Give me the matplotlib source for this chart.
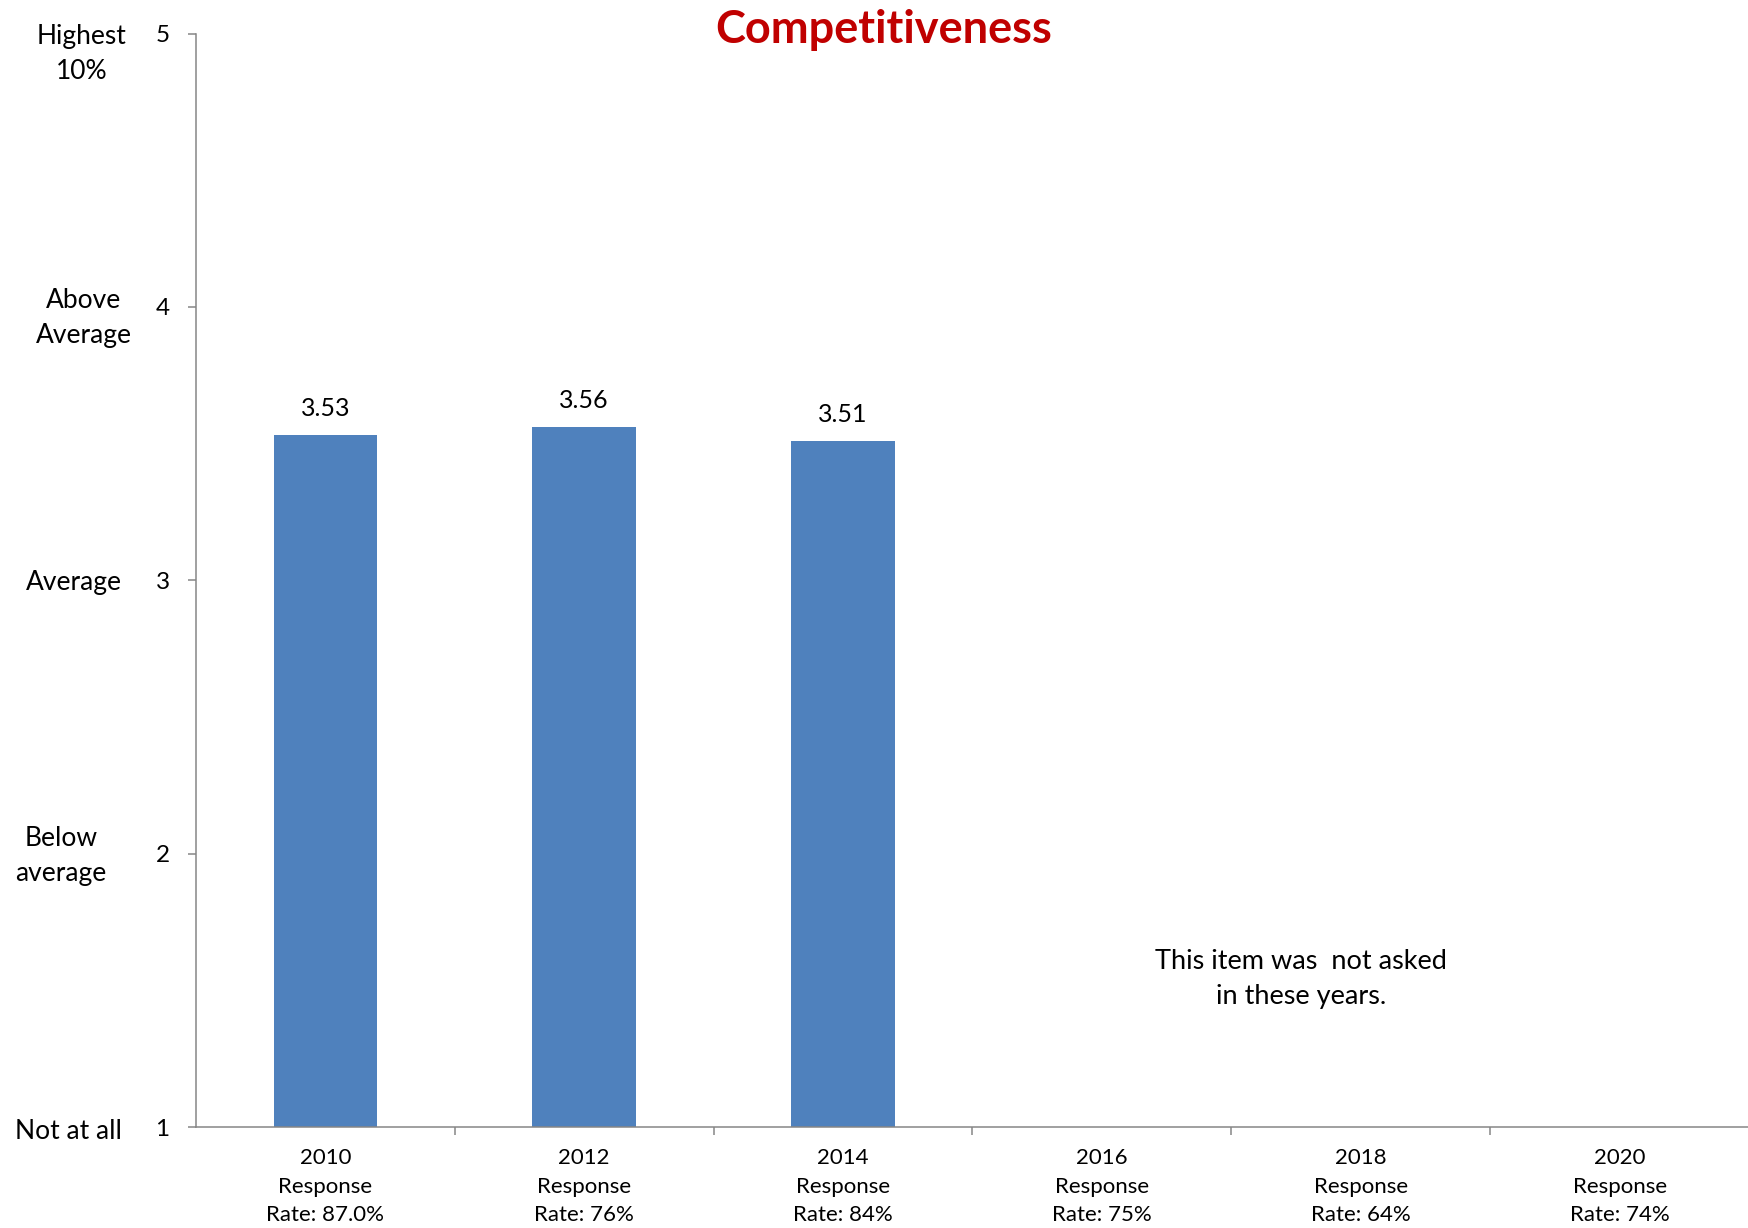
import matplotlib
matplotlib.use("Agg")
import matplotlib.pyplot as plt
import matplotlib.transforms as mtransforms

# data
years = ["2010", "2012", "2014", "2016", "2018", "2020"]
response_rates = ["87.0%", "76%", "84%", "75%", "64%", "74%"]
scores = [3.53, 3.56, 3.51]
level_labels = ["Not at all", "Below\naverage", "Average", "Above\nAverage", "Highest\n10%"]
level_values = [1, 2, 3, 4, 5]
note = "This item was  not asked\nin these years."

plt.rcParams["font.family"] = ["Lato", "DejaVu Sans"]

W, H = 1749, 1228
fig = plt.figure(figsize=(W / 100, H / 100), dpi=100)
ax = fig.add_axes([196 / W, 1 - 1127 / H, 1 - 196 / W, (1127 - 33.5) / H])

bar_color = "#4F81BD"
axis_color = "#868686"

xs = list(range(len(scores)))
bars = ax.bar(xs, scores, width=0.4, bottom=0, color=bar_color, zorder=2)
for x, v in zip(xs, scores):
    ax.annotate(f"{v:.2f}", (x, v), xytext=(0, 11), textcoords="offset points",
                ha="center", va="bottom", fontsize=18)

ax.set_xlim(-0.5, len(years) - 0.5)
ax.set_ylim(1, 5)

# y axis
ax.set_yticks(level_values)
ax.set_yticklabels([str(v) for v in level_values], fontsize=17.5)
ax.tick_params(axis="y", length=6, width=1.1, color=axis_color, pad=13)

# x axis: labels at category centres, ticks between categories
ax.set_xticks(range(len(years)))
ax.set_xticklabels([f"{y}\nResponse\nRate: {r}" for y, r in zip(years, response_rates)],
                   fontsize=16, linespacing=1.55)
ax.set_xticks([i + 0.5 for i in range(len(years) - 1)], minor=True)
ax.tick_params(axis="x", which="major", length=0, pad=15)
ax.tick_params(axis="x", which="minor", length=6, width=1.1, color=axis_color)

for side in ("top", "right"):
    ax.spines[side].set_visible(False)
for side in ("left", "bottom"):
    ax.spines[side].set_color(axis_color)
    ax.spines[side].set_linewidth(1.1)

# level names on the far left
blend = mtransforms.blended_transform_factory(fig.transFigure, ax.transData)
label_x = [68, 61, 74, 84, 82]
label_y = [0.985, 1.99, 2.99, 3.96, 4.925]
for lab, lx, ly in zip(level_labels, label_x, label_y):
    ax.text(lx / W, ly, lab, transform=blend, ha="center", va="center",
            fontsize=19, linespacing=1.5, clip_on=False)

ax.text(3.77, 1.54, note, ha="center", va="center", fontsize=19.5,
        linespacing=1.5, multialignment="center")

fig.text(884 / W, 1 - 43 / H, "Competitiveness", ha="center", va="baseline",
         fontsize=32.5, fontweight="bold", color="#C00000")

fig.savefig("out.png", dpi=100, facecolor="white")
